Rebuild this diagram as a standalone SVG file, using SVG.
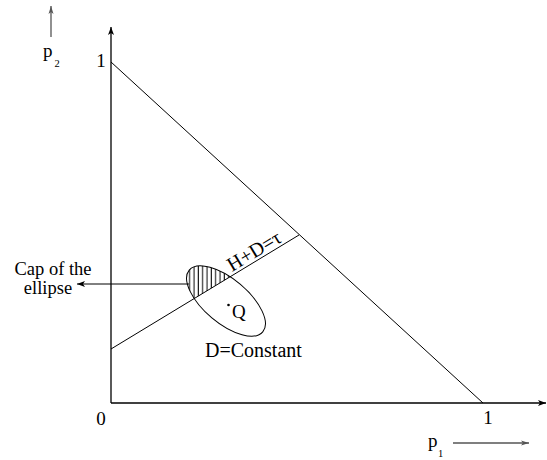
<svg xmlns="http://www.w3.org/2000/svg" width="547" height="460" viewBox="0 0 547 460">
<style>
text{font-family:'Liberation Serif',serif;fill:#000}
.lbl{font-size:19px}
.sub{font-size:10.5px}
.ln{stroke:#000;stroke-width:1;fill:none}
.ax{stroke:#000;stroke-width:1.3;fill:none}
.gr{stroke:#555;stroke-width:1.3;fill:none}
</style>
<defs>
<marker id="ah" markerUnits="userSpaceOnUse" markerWidth="10" markerHeight="8" refX="8" refY="4" orient="auto">
<path d="M0,1 L8,4 L0,7 L2,4 Z" fill="#000"/>
</marker>
<marker id="ahg" markerUnits="userSpaceOnUse" markerWidth="10" markerHeight="8" refX="8" refY="4" orient="auto">
<path d="M0,1.5 L8,4 L0,6.5 L2,4 Z" fill="#555"/>
</marker>
<pattern id="hatch" patternUnits="userSpaceOnUse" x="192" y="0" width="4.33" height="10">
<line x1="2" y1="0" x2="2" y2="10" stroke="#000" stroke-width="1"/>
</pattern>
<clipPath id="ellclip">
<ellipse cx="226" cy="301" rx="48" ry="22" transform="rotate(40 226 301)"/>
</clipPath>
</defs>

<g id="axes">
<line class="ax" x1="111" y1="403" x2="111" y2="27" marker-end="url(#ah)"/>
<line class="ax" x1="111" y1="403" x2="546" y2="403" marker-end="url(#ah)"/>
</g>

<g id="axis-labels" font-family="Liberation Serif, serif">
<line class="gr" x1="51" y1="37" x2="51" y2="6" marker-end="url(#ahg)"/>
<text class="lbl" x="43" y="57" font-family="Liberation Serif, serif">p</text>
<text class="sub" x="54.5" y="67" font-family="Liberation Serif, serif">2</text>
<line class="gr" x1="453" y1="443" x2="529" y2="443" marker-end="url(#ahg)"/>
<text class="lbl" x="428" y="447" font-family="Liberation Serif, serif">p</text>
<text class="sub" x="438" y="457" font-family="Liberation Serif, serif">1</text>
<text class="lbl" x="101" y="67" text-anchor="middle" font-family="Liberation Serif, serif">1</text>
<text class="lbl" x="101" y="425" text-anchor="middle" font-family="Liberation Serif, serif">0</text>
<text class="lbl" x="488" y="424" text-anchor="middle" font-family="Liberation Serif, serif">1</text>
</g>

<g id="cap">
<g clip-path="url(#ellclip)">
<polygon points="170,313.2 260,258.6 260,240 170,240" fill="url(#hatch)"/>
</g>
</g>

<g id="ellipse">
<ellipse class="ln" cx="226" cy="301" rx="48" ry="22" transform="rotate(40 226 301)"/>
<circle cx="228.5" cy="305" r="1.3" fill="#000"/>
<text class="lbl" x="232" y="318" font-family="Liberation Serif, serif">Q</text>
<text class="lbl" x="205" y="357" font-family="Liberation Serif, serif" style="font-size:20px">D=Constant</text>
</g>

<g id="connectors">
<line class="ln" x1="111" y1="62" x2="483" y2="403"/>
<line class="ln" x1="111" y1="349" x2="299" y2="235"/>
<line class="ln" x1="189" y1="284" x2="77" y2="284" marker-end="url(#ah)"/>
</g>

<g id="line-label">
<text class="lbl" x="232" y="272" transform="rotate(-31 232 272)" font-family="Liberation Serif, serif" style="font-size:20px">H+D=τ</text>
</g>

<g id="cap-label">
<text class="lbl" x="53" y="275" text-anchor="middle" font-family="Liberation Serif, serif" style="font-size:18.5px">Cap of the</text>
<text class="lbl" x="48" y="294" text-anchor="middle" font-family="Liberation Serif, serif" style="font-size:18.5px">ellipse</text>
</g>
</svg>
